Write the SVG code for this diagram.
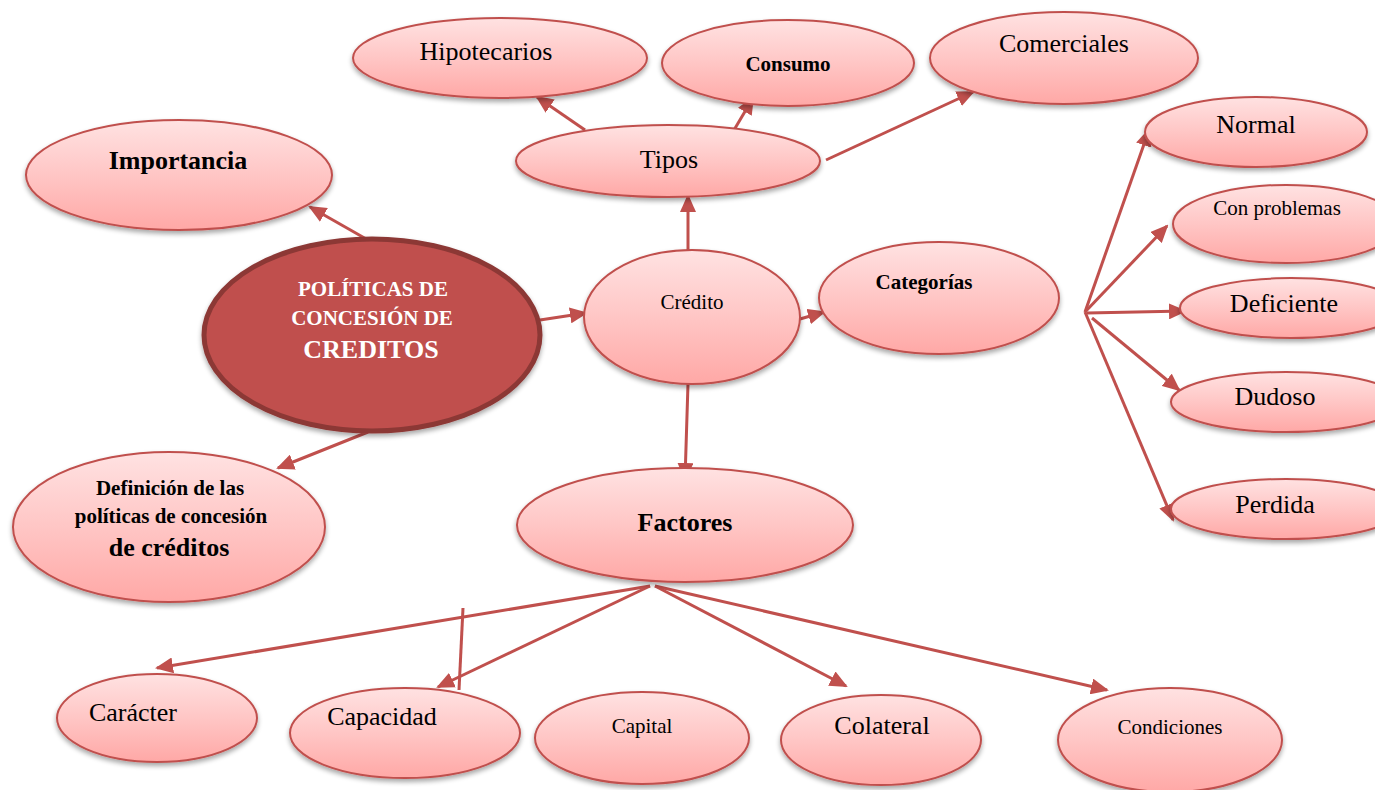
<svg xmlns="http://www.w3.org/2000/svg" width="1375" height="790" viewBox="0 0 1375 790" font-family="'Liberation Serif', 'Times New Roman', 'DejaVu Serif', serif">
  <defs>
    <linearGradient id="pinkFill" x1="0" y1="0" x2="0" y2="1">
      <stop offset="0" stop-color="#FFE2E2"/>
      <stop offset="0.5" stop-color="#FFC6C5"/>
      <stop offset="1" stop-color="#FFA8A6"/>
    </linearGradient>
    <filter id="shadow" x="-10%" y="-10%" width="125%" height="135%">
      <feGaussianBlur in="SourceAlpha" stdDeviation="2.5"/>
      <feOffset dx="0" dy="3" result="b"/>
      <feComponentTransfer><feFuncA type="linear" slope="0.35"/></feComponentTransfer>
      <feMerge><feMergeNode/><feMergeNode in="SourceGraphic"/></feMerge>
    </filter>
    <marker id="arrow" markerUnits="userSpaceOnUse" markerWidth="18" markerHeight="16" viewBox="0 0 18 16" refX="16" refY="8" orient="auto">
      <path d="M0,0 L18,8 L0,16 Z" fill="#C0504D"/>
    </marker>
    <style>
      .node { fill: url(#pinkFill); stroke: #C0504D; stroke-width: 2; filter: url(#shadow); }
      .core { fill: #C0504D; stroke: #8C3836; stroke-width: 5; filter: url(#shadow); }
      .lbl { font-family: 'Liberation Serif', 'Times New Roman', 'DejaVu Serif', serif; fill: #000; text-anchor: middle; }
      .b { font-weight: bold; }
      .w { fill: #FFFFFF; font-weight: bold; }
      .lg { font-size: 26px; }
      .sm { font-size: 21px; }
      .link { stroke: #C0504D; stroke-width: 3; fill: none; }
      .arr { marker-end: url(#arrow); }
    </style>
  </defs>
  <rect width="1375" height="790" fill="#FFFFFF"/>

  <!-- connectors -->
  <g id="connectors">
    <line class="link arr" x1="368" y1="240" x2="310" y2="207"/>
    <line class="link arr" x1="368" y1="432" x2="278" y2="468"/>
    <line class="link arr" x1="540" y1="320" x2="586" y2="313"/>
    <line class="link arr" x1="688" y1="250" x2="688" y2="196"/>
    <line class="link arr" x1="688" y1="384" x2="685" y2="479"/>
    <line class="link arr" x1="800" y1="319" x2="824" y2="312"/>
    <line class="link arr" x1="585" y1="130" x2="537" y2="97"/>
    <line class="link arr" x1="734" y1="130" x2="753" y2="98"/>
    <line class="link arr" x1="826" y1="160" x2="973" y2="92"/>
    <line class="link arr" x1="1085" y1="312" x2="1149" y2="130"/>
    <line class="link arr" x1="1085" y1="312" x2="1167" y2="226"/>
    <line class="link arr" x1="1087" y1="313" x2="1185" y2="311"/>
    <line class="link arr" x1="1092" y1="318" x2="1179" y2="390"/>
    <line class="link arr" x1="1085" y1="312" x2="1173" y2="520"/>
    <line class="link arr" x1="650" y1="586" x2="157" y2="668"/>
    <line class="link arr" x1="650" y1="586" x2="438" y2="687"/>
    <line class="link arr" x1="655" y1="586" x2="846" y2="686"/>
    <line class="link arr" x1="655" y1="586" x2="1107" y2="690"/>
    <line class="link" x1="463" y1="608" x2="459" y2="690"/>
  </g>

  <!-- top: credit types -->
  <g id="hipotecarios">
    <ellipse class="node" cx="500" cy="58" rx="147" ry="40"/>
    <text class="lbl lg" x="486" y="60">Hipotecarios</text>
  </g>
  <g id="consumo">
    <ellipse class="node" cx="788" cy="63" rx="126" ry="43"/>
    <text class="lbl sm b" x="788" y="71">Consumo</text>
  </g>
  <g id="comerciales">
    <ellipse class="node" cx="1064" cy="58" rx="134" ry="46"/>
    <text class="lbl lg" x="1064" y="52">Comerciales</text>
  </g>
  <g id="tipos">
    <ellipse class="node" cx="668" cy="161" rx="152" ry="36"/>
    <text class="lbl lg" x="669" y="168">Tipos</text>
  </g>

  <!-- left side -->
  <g id="importancia">
    <ellipse class="node" cx="179" cy="175" rx="153" ry="55"/>
    <text class="lbl lg b" x="178" y="169">Importancia</text>
  </g>
  <g id="politicas">
    <ellipse class="core" cx="372" cy="335" rx="168" ry="96"/>
    <text class="lbl w sm" x="373" y="296">POLÍTICAS DE</text>
    <text class="lbl w sm" x="372" y="325">CONCESIÓN DE</text>
    <text class="lbl w lg" x="371" y="358">CREDITOS</text>
  </g>
  <g id="definicion">
    <ellipse class="node" cx="169" cy="527" rx="156" ry="75"/>
    <text class="lbl b sm" x="170" y="495">Definición de las</text>
    <text class="lbl b sm" x="171" y="523">políticas de concesión</text>
    <text class="lbl b lg" x="169" y="556">de créditos</text>
  </g>

  <!-- centre -->
  <g id="credito">
    <ellipse class="node" cx="692" cy="317" rx="108" ry="67"/>
    <text class="lbl sm" x="692" y="309">Crédito</text>
  </g>
  <g id="categorias">
    <ellipse class="node" cx="939" cy="298" rx="120" ry="56"/>
    <text class="lbl b sm" x="924" y="289">Categorías</text>
  </g>
  <g id="factores">
    <ellipse class="node" cx="685" cy="525" rx="168" ry="57"/>
    <text class="lbl b lg" x="685" y="531">Factores</text>
  </g>

  <!-- right: categories -->
  <g id="normal">
    <ellipse class="node" cx="1256" cy="132" rx="111" ry="35"/>
    <text class="lbl lg" x="1256" y="133">Normal</text>
  </g>
  <g id="con-problemas">
    <ellipse class="node" cx="1286" cy="224" rx="113" ry="39"/>
    <text class="lbl sm" x="1277" y="215">Con problemas</text>
  </g>
  <g id="deficiente">
    <ellipse class="node" cx="1291" cy="308" rx="111" ry="30"/>
    <text class="lbl lg" x="1284" y="312">Deficiente</text>
  </g>
  <g id="dudoso">
    <ellipse class="node" cx="1286" cy="402" rx="115" ry="30"/>
    <text class="lbl lg" x="1275" y="405">Dudoso</text>
  </g>
  <g id="perdida">
    <ellipse class="node" cx="1286" cy="509" rx="115" ry="30"/>
    <text class="lbl lg" x="1275" y="513">Perdida</text>
  </g>

  <!-- bottom: factors -->
  <g id="caracter">
    <ellipse class="node" cx="157" cy="718" rx="100" ry="44"/>
    <text class="lbl lg" x="133" y="721">Carácter</text>
  </g>
  <g id="capacidad">
    <ellipse class="node" cx="405" cy="733" rx="115" ry="45"/>
    <text class="lbl lg" x="382" y="725">Capacidad</text>
  </g>
  <g id="capital">
    <ellipse class="node" cx="642" cy="738" rx="107" ry="46"/>
    <text class="lbl sm" x="642" y="733">Capital</text>
  </g>
  <g id="colateral">
    <ellipse class="node" cx="881" cy="740" rx="100" ry="45"/>
    <text class="lbl lg" x="882" y="734">Colateral</text>
  </g>
  <g id="condiciones">
    <ellipse class="node" cx="1170" cy="740" rx="112" ry="52"/>
    <text class="lbl sm" x="1170" y="734">Condiciones</text>
  </g>
</svg>
